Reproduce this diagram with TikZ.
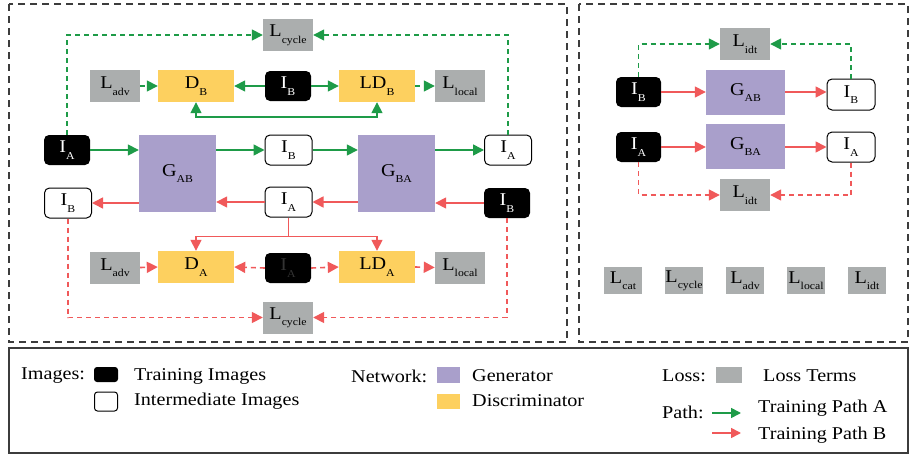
\documentclass[tikz,border=0pt]{standalone}
\usepackage{fontspec}
\setmainfont{Liberation Serif}[FakeStretch=1.12]
\usetikzlibrary{arrows.meta,calc}
\definecolor{pgreen}{HTML}{1E9B48}
\definecolor{pred}{HTML}{F0595A}
\definecolor{gpurple}{HTML}{A99FCB}
\definecolor{dyellow}{HTML}{FDD05F}
\definecolor{lgray}{HTML}{ABAEAE}
\definecolor{frame}{HTML}{3C3C3C}
\newcommand\sbx[2]{#1\raisebox{-6.5pt}{\fontsize{10.5}{11}\selectfont #2}}
\tikzset{
  base/.style={inner sep=0pt, font=\fontsize{18}{20}\selectfont},
  loss/.style={base, fill=lgray, minimum width=50pt, minimum height=32pt},
  lsmall/.style={base, fill=lgray, minimum width=38pt, minimum height=27pt},
  blk/.style={base, fill=black, text=white, rounded corners=5pt, minimum width=46pt, minimum height=30pt},
  wht/.style={base, draw=black, line width=1pt, fill=white, rounded corners=5pt, minimum width=47pt, minimum height=30pt},
  gen/.style={base, fill=gpurple, minimum width=77pt, minimum height=77pt},
  gensm/.style={base, fill=gpurple, minimum width=79pt, minimum height=45pt},
  dis/.style={base, fill=dyellow, minimum width=76pt, minimum height=32pt},
  tip/.style={-{Triangle[length=11pt,width=11pt]}},
  ga/.style={tip, draw=pgreen, line width=1.6pt},
  rb/.style={tip, draw=pred, line width=1.6pt},
  gad/.style={ga, dash pattern=on 5pt off 4pt},
  rbd/.style={rb, dash pattern=on 5pt off 4pt},
  panel/.style={draw=frame, line width=1.2pt, dash pattern=on 7pt off 5pt},
  legtxt/.style={anchor=west, inner sep=0pt, font=\fontsize{18}{20}\selectfont},
}
\begin{document}
\begin{tikzpicture}[x=1pt,y=-1pt]
\useasboundingbox (0,0) rectangle (910,455);
% frames
\draw[panel] (9,4) rectangle (567,342);
\draw[panel] (579,4) rectangle (908,342);
\draw[draw=frame, line width=1.2pt] (9,348) rectangle (908,453);

% ---------- left panel ----------
\node[loss] (Lcyc1) at (288,35) {\sbx{L}{cycle}};
\node[loss] (LadvB) at (115,86) {\sbx{L}{adv}};
\node[dis] (DB) at (196,86) {\sbx{D}{B}};
\node[blk] (IBk1) at (288,86) {\sbx{I}{B}};
\node[dis] (LDB) at (377,86) {\sbx{LD}{B}};
\node[loss] (LlocB) at (460,86) {\sbx{L}{local}};

\node[blk] (IA1) at (67,150) {\sbx{I}{A}};
\node[gen] (GAB) at (177.5,173.5) {\sbx{G}{AB}};
\node[wht] (IBw1) at (288.5,150) {\sbx{I}{B}};
\node[gen] (GBA) at (396.5,173.5) {\sbx{G}{BA}};
\node[wht] (IAw1) at (508,150) {\sbx{I}{A}};

\node[wht] (IBw2) at (68,203) {\sbx{I}{B}};
\node[wht] (IAw2) at (288.5,202) {\sbx{I}{A}};
\node[blk] (IBk2) at (507,203) {\sbx{I}{B}};

\node[loss] (LadvA) at (115,267.5) {\sbx{L}{adv}};
\node[dis] (DA) at (196,267) {\sbx{D}{A}};
\node[blk, text=black!80] (IAk3) at (288,268) {\sbx{I}{A}};
\node[dis] (LDA) at (377,267) {\sbx{LD}{A}};
\node[loss] (LlocA) at (460,267.5) {\sbx{L}{local}};

\node[loss] (Lcyc2) at (288,317.5) {\sbx{L}{cycle}};

% green path
\draw[ga] (IA1.east) -- (IA1.east -| GAB.west);
\draw[ga] (IBw1.west -| GAB.east) -- (IBw1.west);
\draw[ga] (IBw1.east) -- (IBw1.east -| GBA.west);
\draw[ga] (IAw1.west -| GBA.east) -- (IAw1.west);
\draw[ga] (IBk1.west) -- (DB.east);
\draw[ga] (IBk1.east) -- (LDB.west);
\draw[gad] (LadvB.east) -- (DB.west);
\draw[gad] (LDB.east) -- (LlocB.west);
\draw[ga, {Triangle[length=11pt,width=11pt]}-{Triangle[length=11pt,width=11pt]}] (DB.south) -- ++(0,15) -| (LDB.south);
\draw[gad] (IA1.north) |- (Lcyc1.west);
\draw[gad] (IAw1.north) |- (Lcyc1.east);

% red path
\draw[rb] (IBk2.west) -- (IBk2.west -| GBA.east);
\draw[rb] (IAw2.east -| GBA.west) -- (IAw2.east);
\draw[rb] (IAw2.west) -- (IAw2.west -| GAB.east);
\draw[rb] (IBw2.east -| GAB.west) -- (IBw2.east);
\coordinate (split) at ($(IAw2.south)+(0,19)$);
\draw[draw=pred, line width=1.6pt] (IAw2.south) -- (split);
\draw[rb] (split) -| (DA.north);
\draw[rb] (split) -| (LDA.north);
\draw[rbd] (LadvA.east) -- (DA.west);
\draw[rbd] (IAk3.west) -- (DA.east);
\draw[rbd] (IAk3.east) -- (LDA.west);
\draw[rbd] (LDA.east) -- (LlocA.west);
\draw[rbd] (IBw2.south) |- (Lcyc2.west);
\draw[rbd] (IBk2.south) |- (Lcyc2.east);

% ---------- right panel ----------
\node[loss] (Lidt1) at (745,44) {\sbx{L}{idt}};
\node[blk, minimum width=45pt] (IBk4) at (638.5,92) {\sbx{I}{B}};
\node[gensm] (GAB2) at (745.5,92.5) {\sbx{G}{AB}};
\node[wht, minimum width=48pt, minimum height=31pt] (IBw4) at (851,94.5) {\sbx{I}{B}};
\node[blk, minimum width=45pt] (IAk5) at (638.5,147) {\sbx{I}{A}};
\node[gensm] (GBA2) at (745.5,146.5) {\sbx{G}{BA}};
\node[wht, minimum width=48pt] (IAw5) at (851,147) {\sbx{I}{A}};
\node[loss] (Lidt2) at (745,195) {\sbx{L}{idt}};

\draw[gad] (IBk4.north) |- (Lidt1.west);
\draw[gad] (IBw4.north) |- (Lidt1.east);
\draw[rb] (IBk4.east) -- (IBk4.east -| GAB2.west);
\draw[rb] (IBk4.east -| GAB2.east) -- (IBk4.east -| IBw4.west);
\draw[rb] (IAk5.east) -- (IAk5.east -| GBA2.west);
\draw[rb] (IAk5.east -| GBA2.east) -- (IAw5.west);
\draw[rbd] (IAk5.south) |- (Lidt2.west);
\draw[rbd] (IAw5.south) |- (Lidt2.east);

\node[lsmall] (s1) at (623,280.5) {\sbx{L}{cat}};
\node[lsmall] (s2) at (684,280.5) {\sbx{L}{cycle}};
\node[lsmall] (s3) at (745,280.5) {\sbx{L}{adv}};
\node[lsmall] (s4) at (806,280.5) {\sbx{L}{local}};
\node[lsmall] (s5) at (867,280.5) {\sbx{L}{idt}};

% ---------- legend ----------
\node[legtxt] (limg) at (21,376) {Images:};
\node[fill=black, rounded corners=3pt, minimum width=24pt, minimum height=15pt, inner sep=0pt] (swb) at (106,374.5) {};
\node[draw=black, line width=1pt, fill=white, rounded corners=3pt, minimum width=23pt, minimum height=19pt, inner sep=0pt] (sww) at (106,401.5) {};
\node[legtxt] (ltr) at (134,376) {Training Images};
\node[legtxt] (lint) at (134,401) {Intermediate Images};

\node[legtxt] (lnet) at (351,376) {Network:};
\node[fill=gpurple, minimum width=23pt, minimum height=16pt, inner sep=0pt] (swp) at (448.5,375) {};
\node[fill=dyellow, minimum width=23pt, minimum height=15pt, inner sep=0pt] (swy) at (448.5,401.5) {};
\node[legtxt] (lgen) at (472,376) {Generator};
\node[legtxt] (ldis) at (472,401) {Discriminator};

\node[legtxt] (lloss) at (662,376) {Loss:};
\node[fill=lgray, minimum width=26pt, minimum height=16pt, inner sep=0pt] (swg) at (729,375) {};
\node[legtxt] (llt) at (763,376) {Loss Terms};

\node[legtxt] (lpath) at (662,412) {Path:};
\coordinate (pa1) at (712,413);
\coordinate (pa2) at (741,413);
\coordinate (pb1) at (712,433);
\coordinate (pb2) at (741,433);
\draw[ga, -{Triangle[length=10pt,width=10pt]}] (pa1) -- (pa2);
\draw[rb, -{Triangle[length=10pt,width=10pt]}] (pb1) -- (pb2);
\node[legtxt] (lpa) at (758,408) {Training Path A};
\node[legtxt] (lpb) at (758,435) {Training Path B};
\end{tikzpicture}
\end{document}
